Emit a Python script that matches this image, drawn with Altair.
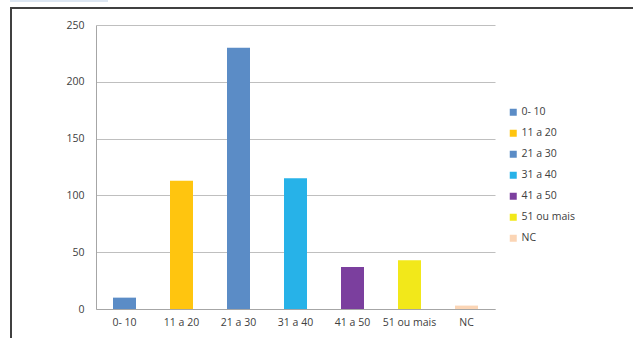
import altair as alt
import pandas as pd

categories = ["0- 10", "11 a 20", "21 a 30", "31 a 40", "41 a 50", "51 ou mais", "NC"]
values = [10, 113, 230, 115, 37, 43, 3]
colors = ["#5B8CC6", "#FFC50F", "#5B8CC6", "#27B2E8", "#7B3F9E", "#F2E81A", "#FBD5B5"]

df = pd.DataFrame({"faixa": categories, "valor": values})

FONT = "Open Sans"
W, H = 399, 284

bars = alt.Chart(df).mark_bar(size=23).encode(
    x=alt.X("faixa:N", sort=categories, title=None,
            scale=alt.Scale(paddingInner=0.6, paddingOuter=0.3),
            axis=alt.Axis(labelAngle=0, labelFontSize=10.5, labelColor="#404040",
                          labelFont=FONT, ticks=False, domainColor="#A6A6A6",
                          labelPadding=8)),
    y=alt.Y("valor:Q", title=None,
            scale=alt.Scale(domain=[0, 250]),
            axis=alt.Axis(values=[0, 50, 100, 150, 200, 250], labelFontSize=10.5,
                          labelColor="#404040", labelFont=FONT, ticks=False,
                          domainColor="#A6A6A6", gridColor="#BFBFBF", labelPadding=12)),
    color=alt.Color("faixa:N", sort=categories,
                    scale=alt.Scale(domain=categories, range=colors),
                    legend=alt.Legend(title=None, orient="none", legendX=412, legendY=82,
                                      symbolType="square", symbolSize=49,
                                      symbolStrokeWidth=0, labelFontSize=10.5,
                                      labelFont=FONT, labelColor="#404040",
                                      rowPadding=10, labelOffset=3)),
)

frame_df = pd.DataFrame({"k": [0]})
top_line = alt.Chart(frame_df).mark_rule(color="#404040", strokeWidth=2, clip=False).encode(
    x=alt.value(-86), x2=alt.value(545), y=alt.value(-17))
left_line = alt.Chart(frame_df).mark_rule(color="#404040", strokeWidth=2, clip=False).encode(
    x=alt.value(-85), y=alt.value(-17), y2=alt.value(320))
blue_tab = alt.Chart(frame_df).mark_rect(color="#DCE6F2", clip=False).encode(
    x=alt.value(-86), x2=alt.value(12), y=alt.value(-25), y2=alt.value(-23))

chart = alt.layer(bars, top_line, left_line, blue_tab).properties(
    width=W, height=H,
    padding={"left": 96, "top": 25, "right": 138, "bottom": 29},
    autosize=alt.AutoSizeParams(type="none"),
    background="white",
).configure_view(stroke=None)

chart.save("out.html", embed_options={"renderer": "svg", "actions": False})
